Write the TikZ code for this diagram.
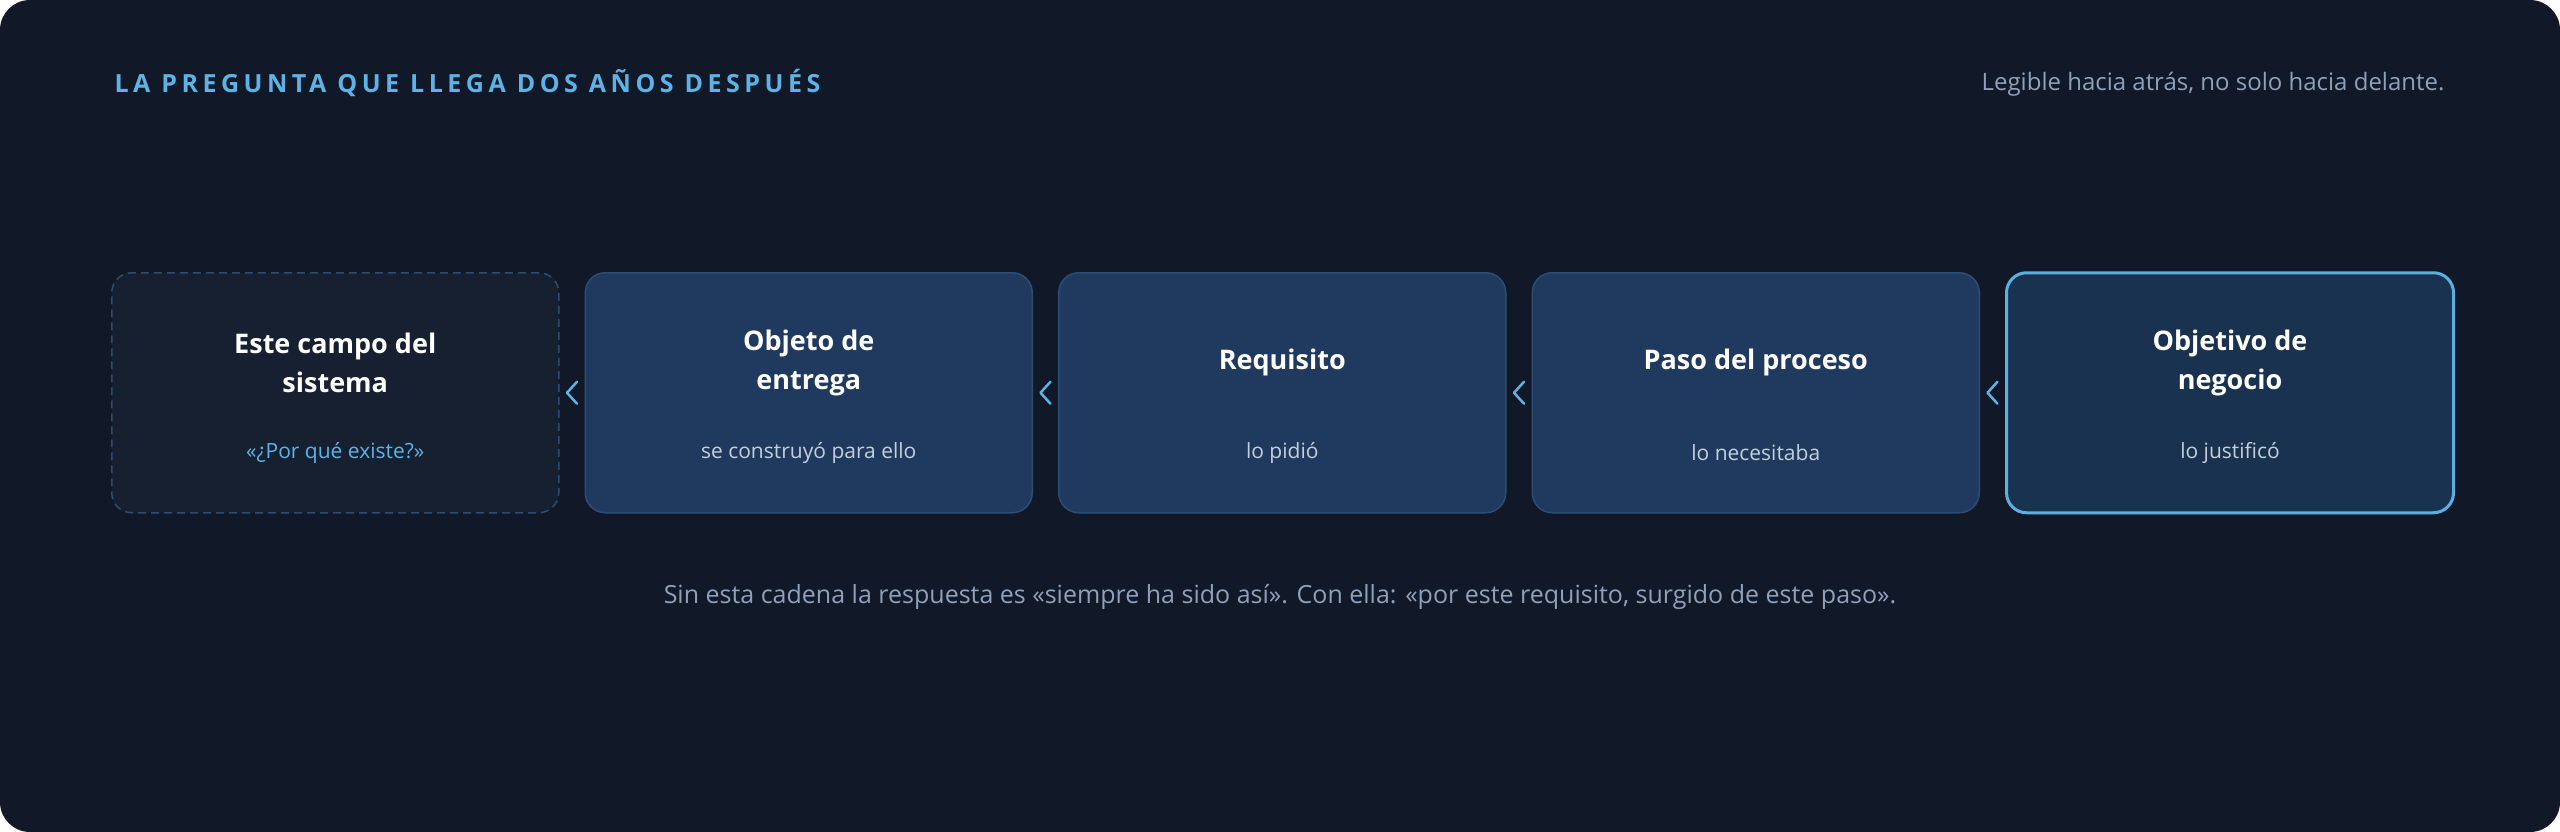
\documentclass[tikz,border=0pt]{standalone}
\usepackage{fontspec}
\setmainfont{Open Sans}
\newfontfamily\trackedfont[LetterSpace=18]{Open Sans}
\usetikzlibrary{positioning,calc}

\definecolor{pagebg}{HTML}{111827}
\definecolor{cardfill}{HTML}{1F3A5E}
\definecolor{cardline}{HTML}{2D4D75}
\definecolor{openfill}{HTML}{172030}
\definecolor{openline}{HTML}{2E4C70}
\definecolor{goalfill}{HTML}{18324F}
\definecolor{goalline}{HTML}{5BB0E0}
\definecolor{accent}{HTML}{5DB3E6}
\definecolor{notegrey}{HTML}{C4CFDC}
\definecolor{mutedgrey}{HTML}{8FA1BA}

\tikzset{
  card/.style={rounded corners=20pt, minimum width=447pt, minimum height=240pt,
    inner sep=0pt, fill=cardfill, draw=cardline, line width=1.5pt},
  cardtitle/.style={text=white, align=center, font=\bfseries\fontsize{27}{39}\selectfont},
  cardnote/.style={text=notegrey, font=\fontsize{21}{25}\selectfont},
  chevron/.style={draw=accent, line width=2.5pt, line cap=round, line join=round}
}

\begin{document}
\begin{tikzpicture}[x=1pt, y=-1pt]
  \fill[white] (0,0) rectangle (2560,832);
  \fill[pagebg, rounded corners=30pt] (0,0) rectangle (2560,832);

  \node[anchor=base west, text=accent, font=\trackedfont\bfseries\fontsize{25}{29}\selectfont] (heading) at (111,93) {LA PREGUNTA QUE LLEGA DOS AÑOS DESPUÉS};
  \node[anchor=base east, text=mutedgrey, font=\fontsize{24}{28}\selectfont] (motto) at (2448,91) {Legible hacia atrás, no solo hacia delante.};

  \node[card, anchor=north west, fill=openfill, draw=openline, dash pattern=on 8pt off 5pt] (field) at (111,272) {};
  \node[card, right=25pt of field] (deliverable) {};
  \node[card, right=25pt of deliverable] (requirement) {};
  \node[card, right=25pt of requirement] (processstep) {};
  \node[card, right=25pt of processstep, fill=goalfill, draw=goalline, line width=3pt] (goal) {};

  \node[cardtitle] (field-title) at ($(field.center)+(0,-30)$) {Este campo del\\sistema};
  \node[cardnote, text=accent] (field-note) at ($(field.center)+(0,60)$) {«¿Por qué existe?»};
  \node[cardtitle] (deliverable-title) at ($(deliverable.center)+(0,-30)$) {Objeto de\\entrega};
  \node[cardnote] (deliverable-note) at ($(deliverable.center)+(0,60)$) {se construyó para ello};
  \node[cardtitle] (requirement-title) at ($(requirement.center)+(0,-30)$) {Requisito};
  \node[cardnote] (requirement-note) at ($(requirement.center)+(0,60)$) {lo pidió};
  \node[cardtitle] (processstep-title) at ($(processstep.center)+(0,-30)$) {Paso del proceso};
  \node[cardnote] (processstep-note) at ($(processstep.center)+(0,60)$) {lo necesitaba};
  \node[cardtitle] (goal-title) at ($(goal.center)+(0,-30)$) {Objetivo de\\negocio};
  \node[cardnote] (goal-note) at ($(goal.center)+(0,60)$) {lo justificó};

  \draw[chevron] ($(field.east)!0.5!(deliverable.west)$) ++(5,-11) -- ++(-10,11) -- ++(10,11);
  \draw[chevron] ($(deliverable.east)!0.5!(requirement.west)$) ++(5,-11) -- ++(-10,11) -- ++(10,11);
  \draw[chevron] ($(requirement.east)!0.5!(processstep.west)$) ++(5,-11) -- ++(-10,11) -- ++(10,11);
  \draw[chevron] ($(processstep.east)!0.5!(goal.west)$) ++(5,-11) -- ++(-10,11) -- ++(10,11);

  \node[text=mutedgrey, font=\fontsize{25}{30}\selectfont] (summary) at (1280,597) {Sin esta cadena la respuesta es «siempre ha sido así». Con ella: «por este requisito, surgido de este paso».};
\end{tikzpicture}
\end{document}
